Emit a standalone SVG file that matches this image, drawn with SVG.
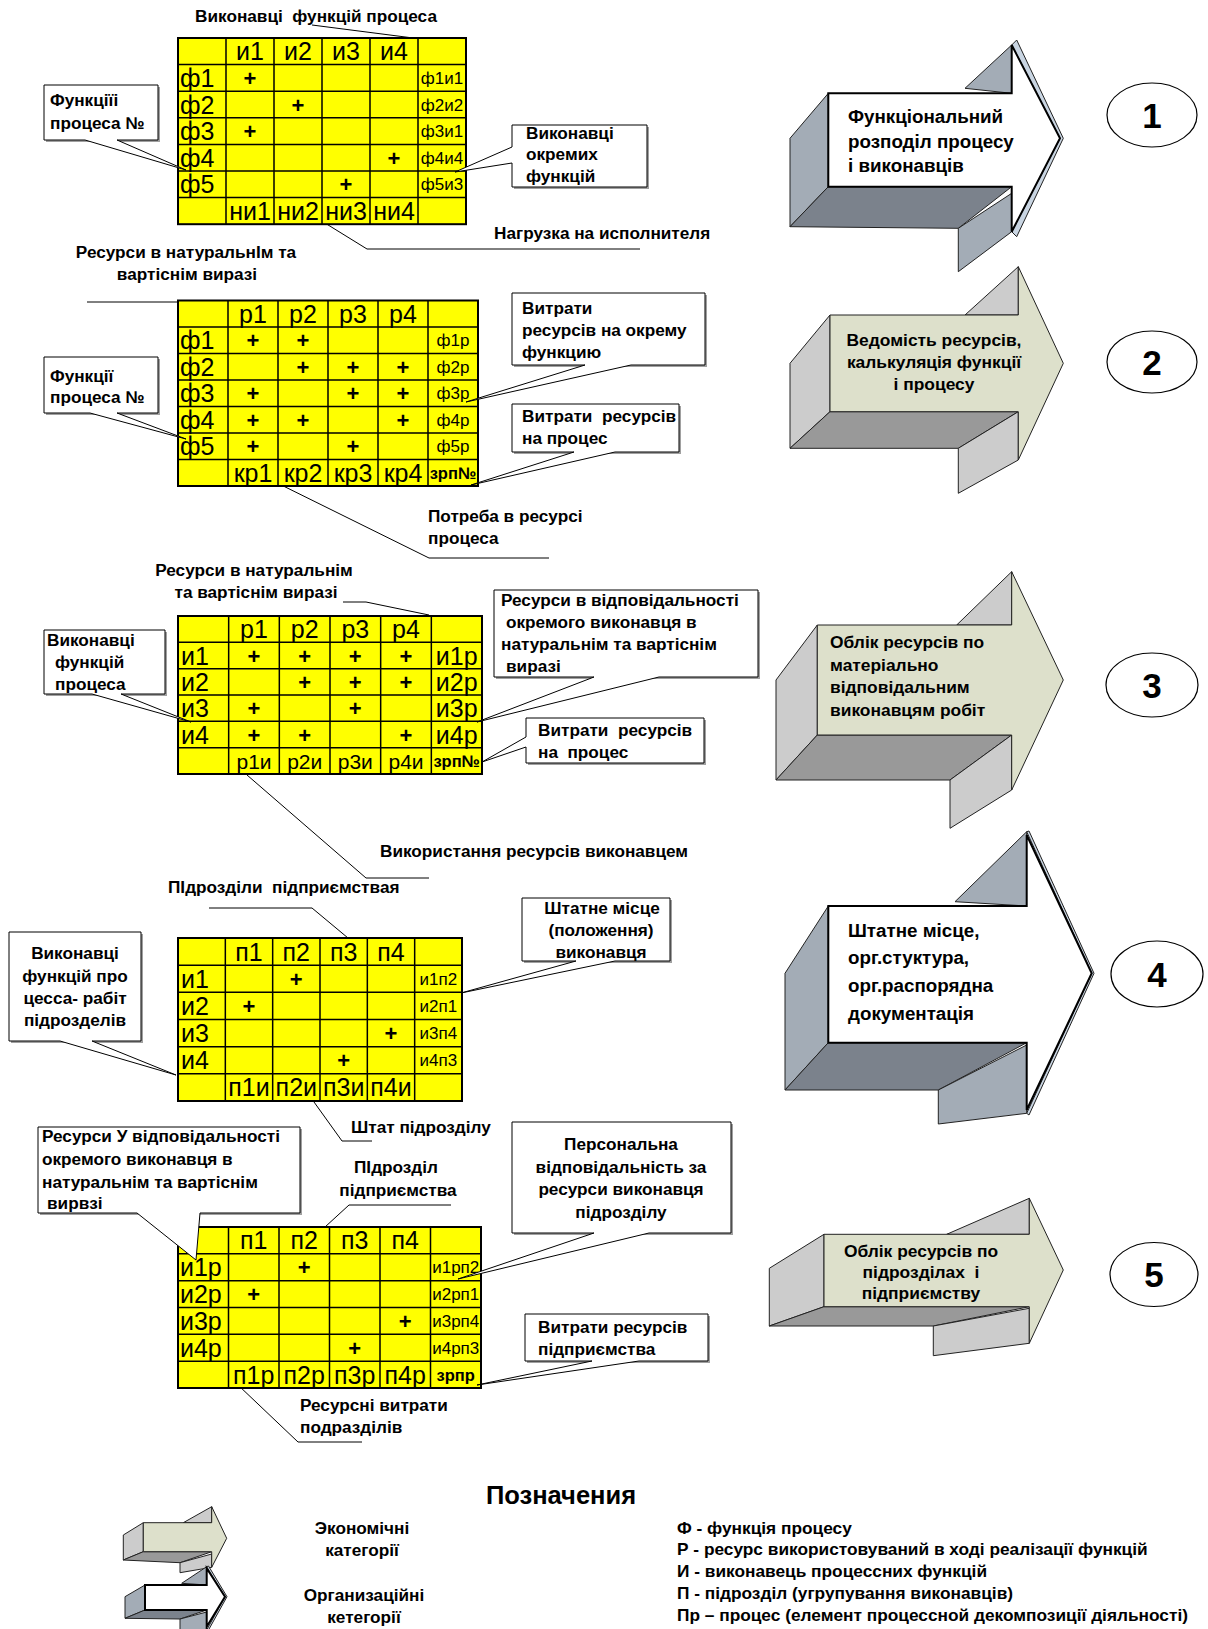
<svg xmlns="http://www.w3.org/2000/svg" width="1208" height="1629" viewBox="0 0 1208 1629">
<style>
  .tb { fill:#ffff00; stroke:#000; stroke-width:2; }
  .gl { stroke:#000; stroke-width:1.5; fill:none; }
  .big { font-family:"Liberation Sans", Arial, sans-serif; font-size:25px; text-anchor:middle; fill:#000; }
  .bigl { font-family:"Liberation Sans", Arial, sans-serif; font-size:25px; text-anchor:start; fill:#000; }
  .mid { font-family:"Liberation Sans", Arial, sans-serif; font-size:21px; text-anchor:middle; fill:#000; }
  .sm { font-family:"Liberation Sans", Arial, sans-serif; font-size:17px; text-anchor:middle; fill:#000; }
  .pl { font-family:"Liberation Sans", Arial, sans-serif; font-size:22px; font-weight:bold; text-anchor:middle; fill:#000; }
  .zr { font-family:"Liberation Sans", Arial, sans-serif; font-size:16.5px; font-weight:bold; text-anchor:middle; fill:#000; }
  .lb { font-family:"Liberation Sans", Arial, sans-serif; font-size:17.2px; font-weight:bold; fill:#000; }
  .lbc { font-family:"Liberation Sans", Arial, sans-serif; font-size:17.2px; font-weight:bold; fill:#000; text-anchor:middle; }
  .co { fill:#fff; stroke:#000; stroke-width:1; }
  .sh { fill:#a0a0a0; }
  .ld { stroke:#000; stroke-width:1; fill:none; }
  .oside { fill:#a3acb6; stroke:#222; stroke-width:1; }
  .obot { fill:#7b828c; stroke:#222; stroke-width:1; }
  .ostrip { fill:#c9d5e2; stroke:#222; stroke-width:1; }
  .ofront { fill:#fff; stroke:#000; stroke-width:2; }
  .eside { fill:#cccccc; stroke:#222; stroke-width:1; }
  .ebot { fill:#999999; stroke:#222; stroke-width:1; }
  .efront { fill:#dde0cb; stroke:#222; stroke-width:1; }
  .at { font-family:"Liberation Sans", Arial, sans-serif; font-size:18.8px; font-weight:bold; fill:#000; }
  .ate { font-family:"Liberation Sans", Arial, sans-serif; font-size:17.4px; font-weight:bold; fill:#000; }
  .el { fill:#fff; stroke:#000; stroke-width:1.2; }
  .num { font-family:"Liberation Sans", Arial, sans-serif; font-size:35px; font-weight:bold; text-anchor:middle; fill:#000; }
  .lg { font-family:"Liberation Sans", Arial, sans-serif; font-size:17.3px; font-weight:bold; fill:#000; }
</style>

<!-- leader lines from labels to tables -->
<g id="connectors">
  <path class="ld" d="M312,25 L415.5,38.3"/>
  <path class="ld" d="M312,215 L367,249 H640"/>
  <path class="ld" d="M87,302 H218 L246,325"/>
  <path class="ld" d="M257,473 L429,558 H549"/>
  <path class="ld" d="M343,602 H366 L429,615"/>
  <path class="ld" d="M247,775 L366,878 H429"/>
  <path class="ld" d="M209,908 H312 L348,938"/>
  <path class="ld" d="M314,1102 L342,1141 H372"/>
  <path class="ld" d="M451,1205 H349 L325,1227"/>
  <path class="ld" d="M238,1385 L298,1442 H362"/>
</g>

<!-- free labels -->
<g id="labels">
  <text class="lbc" x="316" y="22" xml:space="preserve">Виконавці  функцій процеса</text>
  <text class="lb" x="494" y="239">Нагрузка на исполнителя</text>
  <text class="lbc" x="186" y="258">Ресурси в натуральнІм та</text>
  <text class="lbc" x="187" y="280">вартіснім виразі</text>
  <text class="lb" x="428" y="522">Потреба в ресурсі</text>
  <text class="lb" x="428" y="544">процеса</text>
  <text class="lbc" x="254" y="576">Ресурси в натуральнім</text>
  <text class="lbc" x="256" y="598">та вартіснім виразі</text>
  <text class="lb" x="380" y="857">Використання ресурсів виконавцем</text>
  <text class="lb" x="168" y="893" xml:space="preserve">ПІдрозділи  підприємствая</text>
  <text class="lb" x="351" y="1133">Штат підрозділу</text>
  <text class="lbc" x="396" y="1173">ПІдрозділ</text>
  <text class="lbc" x="398" y="1196">підприємства</text>
  <text class="lb" x="300" y="1411">Ресурсні витрати</text>
  <text class="lb" x="300" y="1433">подразділів</text>
</g>

<!-- matrix 1: functions x executors -->
<g id="table1">
  <rect class="tb" x="178" y="38" width="288" height="186.2"/>
  <path class="gl" d="M226,38V224.2M274,38V224.2M322,38V224.2M370,38V224.2M418,38V224.2M178,64.6H466M178,91.2H466M178,117.8H466M178,144.4H466M178,171H466M178,197.6H466"/>
  <text class="big" x="250" y="60.3">и1</text><text class="big" x="298" y="60.3">и2</text><text class="big" x="346" y="60.3">и3</text><text class="big" x="394" y="60.3">и4</text>
  <text class="bigl" x="180" y="86.9">ф1</text><text class="bigl" x="180" y="113.5">ф2</text><text class="bigl" x="180" y="140.1">ф3</text><text class="bigl" x="180" y="166.7">ф4</text><text class="bigl" x="180" y="193.3">ф5</text>
  <text class="pl" x="250" y="85.9">+</text><text class="pl" x="298" y="112.5">+</text><text class="pl" x="250" y="139.1">+</text><text class="pl" x="394" y="165.7">+</text><text class="pl" x="346" y="192.3">+</text>
  <text class="sm" x="442" y="83.9">ф1и1</text><text class="sm" x="442" y="110.5">ф2и2</text><text class="sm" x="442" y="137.1">ф3и1</text><text class="sm" x="442" y="163.7">ф4и4</text><text class="sm" x="442" y="190.3">ф5и3</text>
  <text class="big" x="250" y="219.9">ни1</text><text class="big" x="298" y="219.9">ни2</text><text class="big" x="346" y="219.9">ни3</text><text class="big" x="394" y="219.9">ни4</text>
</g>

<!-- matrix 2: functions x resources -->
<g id="table2">
  <rect class="tb" x="178" y="300.5" width="300" height="185.5"/>
  <path class="gl" d="M228,300.5V486M278,300.5V486M328,300.5V486M378,300.5V486M428,300.5V486M178,327H478M178,353.5H478M178,380H478M178,406.5H478M178,433H478M178,459.5H478"/>
  <text class="big" x="253" y="322.75">р1</text><text class="big" x="303" y="322.75">р2</text><text class="big" x="353" y="322.75">р3</text><text class="big" x="403" y="322.75">р4</text>
  <text class="bigl" x="180" y="349.25">ф1</text><text class="bigl" x="180" y="375.75">ф2</text><text class="bigl" x="180" y="402.25">ф3</text><text class="bigl" x="180" y="428.75">ф4</text><text class="bigl" x="180" y="455.25">ф5</text>
  <text class="pl" x="253" y="348.25">+</text><text class="pl" x="303" y="348.25">+</text>
  <text class="pl" x="303" y="374.75">+</text><text class="pl" x="353" y="374.75">+</text><text class="pl" x="403" y="374.75">+</text>
  <text class="pl" x="253" y="401.25">+</text><text class="pl" x="353" y="401.25">+</text><text class="pl" x="403" y="401.25">+</text>
  <text class="pl" x="253" y="427.75">+</text><text class="pl" x="303" y="427.75">+</text><text class="pl" x="403" y="427.75">+</text>
  <text class="pl" x="253" y="454.25">+</text><text class="pl" x="353" y="454.25">+</text>
  <text class="sm" x="453" y="346.25">ф1р</text><text class="sm" x="453" y="372.75">ф2р</text><text class="sm" x="453" y="399.25">ф3р</text><text class="sm" x="453" y="425.75">ф4р</text><text class="sm" x="453" y="452.25">ф5р</text>
  <text class="big" x="253" y="481.75">кр1</text><text class="big" x="303" y="481.75">кр2</text><text class="big" x="353" y="481.75">кр3</text><text class="big" x="403" y="481.75">кр4</text>
  <text class="zr" x="453" y="479">зрп№</text>
</g>

<!-- matrix 3: executors x resources -->
<g id="table3">
  <rect class="tb" x="178" y="616" width="304" height="158"/>
  <path class="gl" d="M228.67,616V774M279.33,616V774M330,616V774M380.67,616V774M431.33,616V774M178,642.33H482M178,668.67H482M178,695H482M178,721.33H482M178,747.67H482"/>
  <text class="big" x="254" y="638.2">р1</text><text class="big" x="304.7" y="638.2">р2</text><text class="big" x="355.3" y="638.2">р3</text><text class="big" x="406" y="638.2">р4</text>
  <text class="bigl" x="181" y="664.5">и1</text><text class="bigl" x="181" y="690.8">и2</text><text class="bigl" x="181" y="717.2">и3</text><text class="bigl" x="181" y="743.5">и4</text>
  <text class="pl" x="254" y="663.5">+</text><text class="pl" x="304.7" y="663.5">+</text><text class="pl" x="355.3" y="663.5">+</text><text class="pl" x="406" y="663.5">+</text>
  <text class="pl" x="304.7" y="689.8">+</text><text class="pl" x="355.3" y="689.8">+</text><text class="pl" x="406" y="689.8">+</text>
  <text class="pl" x="254" y="716.2">+</text><text class="pl" x="355.3" y="716.2">+</text>
  <text class="pl" x="254" y="742.5">+</text><text class="pl" x="304.7" y="742.5">+</text><text class="pl" x="406" y="742.5">+</text>
  <text class="big" x="456.7" y="664.5" font-size="24">и1р</text><text class="big" x="456.7" y="690.8" font-size="24">и2р</text><text class="big" x="456.7" y="717.2" font-size="24">и3р</text><text class="big" x="456.7" y="743.5" font-size="24">и4р</text>
  <text class="mid" x="254" y="768.5">р1и</text><text class="mid" x="304.7" y="768.5">р2и</text><text class="mid" x="355.3" y="768.5">р3и</text><text class="mid" x="406" y="768.5">р4и</text>
  <text class="zr" x="456.7" y="767">зрп№</text>
</g>

<!-- matrix 4: executors x departments -->
<g id="table4">
  <rect class="tb" x="178" y="938" width="284" height="163"/>
  <path class="gl" d="M225.33,938V1101M272.67,938V1101M320,938V1101M367.33,938V1101M414.67,938V1101M178,965.17H462M178,992.33H462M178,1019.5H462M178,1046.67H462M178,1073.83H462"/>
  <text class="big" x="249" y="960.6">п1</text><text class="big" x="296.3" y="960.6">п2</text><text class="big" x="343.7" y="960.6">п3</text><text class="big" x="391" y="960.6">п4</text>
  <text class="bigl" x="181" y="987.75">и1</text><text class="bigl" x="181" y="1014.9">и2</text><text class="bigl" x="181" y="1042.1">и3</text><text class="bigl" x="181" y="1069.25">и4</text>
  <text class="pl" x="296.3" y="986.75">+</text><text class="pl" x="249" y="1013.9">+</text><text class="pl" x="391" y="1041.1">+</text><text class="pl" x="343.7" y="1068.25">+</text>
  <text class="sm" x="438.3" y="984.75">и1п2</text><text class="sm" x="438.3" y="1011.9">и2п1</text><text class="sm" x="438.3" y="1039.1">и3п4</text><text class="sm" x="438.3" y="1066.25">и4п3</text>
  <text class="big" x="249" y="1096.4">п1и</text><text class="big" x="296.3" y="1096.4">п2и</text><text class="big" x="343.7" y="1096.4">п3и</text><text class="big" x="391" y="1096.4">п4и</text>
</g>

<!-- matrix 5: executor resources x departments -->
<g id="table5">
  <rect class="tb" x="178" y="1227" width="303" height="161"/>
  <path class="gl" d="M228.5,1227V1388M279,1227V1388M329.5,1227V1388M380,1227V1388M430.5,1227V1388M178,1253.83H481M178,1280.67H481M178,1307.5H481M178,1334.33H481M178,1361.17H481"/>
  <text class="big" x="253.75" y="1249.4">п1</text><text class="big" x="304.25" y="1249.4">п2</text><text class="big" x="354.75" y="1249.4">п3</text><text class="big" x="405.25" y="1249.4">п4</text>
  <text class="bigl" x="180" y="1276.25">и1р</text><text class="bigl" x="180" y="1303.1">и2р</text><text class="bigl" x="180" y="1329.9">и3р</text><text class="bigl" x="180" y="1356.75">и4р</text>
  <text class="pl" x="304.25" y="1275.25">+</text><text class="pl" x="253.75" y="1302.1">+</text><text class="pl" x="405.25" y="1328.9">+</text><text class="pl" x="354.75" y="1355.75">+</text>
  <text class="sm" x="455.75" y="1273.25">и1рп2</text><text class="sm" x="455.75" y="1300.1">и2рп1</text><text class="sm" x="455.75" y="1326.9">и3рп4</text><text class="sm" x="455.75" y="1353.75">и4рп3</text>
  <text class="big" x="253.75" y="1383.6">п1р</text><text class="big" x="304.25" y="1383.6">п2р</text><text class="big" x="354.75" y="1383.6">п3р</text><text class="big" x="405.25" y="1383.6">п4р</text>
  <text class="zr" x="455.75" y="1380.5">зрпр</text>
</g>

<!-- callouts -->
<g id="callout1">
  <rect class="sh" x="46" y="87" width="114" height="55"/>
  <path class="co" d="M44,85H158V140H117L186,170L85,140H44Z"/>
  <text class="lb" x="50" y="106">Функціїі</text>
  <text class="lb" x="50" y="129">процеса №</text>
</g>
<g id="callout2">
  <rect class="sh" x="514" y="127" width="135" height="62"/>
  <path class="co" d="M512,125H647V187H512V163L455,172L512,147Z"/>
  <text class="lb" x="526" y="139">Виконавці</text>
  <text class="lb" x="526" y="160">окремих</text>
  <text class="lb" x="526" y="182">функцій</text>
</g>
<g id="callout3">
  <rect class="sh" x="46" y="359" width="114" height="56"/>
  <path class="co" d="M44,357H158V413H117L186,439L90,413H44Z"/>
  <text class="lb" x="50" y="382">Функції</text>
  <text class="lb" x="50" y="403">процеса №</text>
</g>
<g id="callout4">
  <rect class="sh" x="514" y="295" width="193" height="72"/>
  <path class="co" d="M512,293H705V365H631L466,402L585,365H512Z"/>
  <text class="lb" x="522" y="314">Витрати</text>
  <text class="lb" x="522" y="336">ресурсів на окрему</text>
  <text class="lb" x="522" y="358">функцию</text>
</g>
<g id="callout5">
  <rect class="sh" x="514" y="406" width="167" height="48"/>
  <path class="co" d="M512,404H679V452H615L471,485L574,452H512Z"/>
  <text class="lb" x="522" y="422" xml:space="preserve">Витрати  ресурсів</text>
  <text class="lb" x="522" y="444">на процес</text>
</g>
<g id="callout6">
  <rect class="sh" x="46" y="632" width="121" height="64"/>
  <path class="co" d="M44,630H165V694H121L191,722L92,694H44Z"/>
  <text class="lb" x="47" y="646">Виконавці</text>
  <text class="lb" x="55" y="668">функцій</text>
  <text class="lb" x="55" y="690">процеса</text>
</g>
<g id="callout7">
  <rect class="sh" x="496" y="592" width="264" height="87"/>
  <path class="co" d="M494,590H758V677H659L477,722L594,677H494Z"/>
  <text class="lb" x="501" y="606">Ресурси в відповідальності</text>
  <text class="lb" x="506" y="628">окремого виконавця в</text>
  <text class="lb" x="501" y="650">натуральнім та вартіснім</text>
  <text class="lb" x="506" y="672">виразі</text>
</g>
<g id="callout8">
  <rect class="sh" x="528" y="720" width="178" height="45"/>
  <path class="co" d="M526,718H704V763H526V747L482,762L526,737Z"/>
  <text class="lb" x="538" y="736" xml:space="preserve">Витрати  ресурсів</text>
  <text class="lb" x="538" y="758" xml:space="preserve">на  процес</text>
</g>
<g id="callout9">
  <rect class="sh" x="11" y="934" width="132" height="109"/>
  <path class="co" d="M9,932H141V1041H92L176,1075L60,1041H9Z"/>
  <text class="lbc" x="75" y="959">Виконавці</text>
  <text class="lbc" x="75" y="982">функцій про</text>
  <text class="lbc" x="75" y="1004">цесса- рабіт</text>
  <text class="lbc" x="75" y="1026">підрозделів</text>
</g>
<g id="callout10">
  <rect class="sh" x="524" y="900" width="148" height="63"/>
  <path class="co" d="M522,898H670V961H615L461,993L576,961H522Z"/>
  <text class="lbc" x="602" y="914">Штатне місце</text>
  <text class="lbc" x="601" y="936">(положення)</text>
  <text class="lbc" x="601" y="958">виконавця</text>
</g>
<g id="callout11">
  <rect class="sh" x="40" y="1129" width="262" height="86"/>
  <path class="co" d="M38,1127H300V1213H200L196,1260L137,1213H38Z"/>
  <text class="lb" x="42" y="1142">Ресурси У відповідальності</text>
  <text class="lb" x="42" y="1165">окремого виконавця в</text>
  <text class="lb" x="42" y="1188">натуральнім та вартіснім</text>
  <text class="lb" x="47" y="1209">вирвзі</text>
</g>
<g id="callout12">
  <rect class="sh" x="514" y="1124" width="219" height="111"/>
  <path class="co" d="M512,1122H731V1233H649L458,1279L594,1233H512Z"/>
  <text class="lbc" x="621" y="1150">Персональна</text>
  <text class="lbc" x="621" y="1173">відповідальність за</text>
  <text class="lbc" x="621" y="1195">ресурси виконавця</text>
  <text class="lbc" x="621" y="1218">підрозділу</text>
</g>
<g id="callout13">
  <rect class="sh" x="527" y="1316" width="183" height="47"/>
  <path class="co" d="M525,1314H708V1361H639L477,1385L592,1361H525Z"/>
  <text class="lb" x="538" y="1333">Витрати ресурсів</text>
  <text class="lb" x="538" y="1355">підприємства</text>
</g>

<!-- block arrows -->
<g id="arrow1">
  <polygon class="oside" points="965,88.3 1011.7,45 1011.7,93.3"/>
  <polygon class="ostrip" points="1011.7,45 1016.7,40 1063.3,138.3 1016.7,236.7 1011.7,231.7 1060,138.3"/>
  <polygon class="oside" points="790,138.3 828.3,93.3 828.3,186.7 790,226.7"/>
  <polygon class="obot" points="790,226.7 828.3,186.7 1011.7,186.7 958.3,228.3"/>
  <polygon class="oside" points="958.3,228.3 1011.7,193.3 1011.7,231.7 958.3,271.7"/>
  <polygon class="ofront" points="828.3,93.3 1011.7,93.3 1011.7,45 1060,138.3 1011.7,231.7 1011.7,186.7 828.3,186.7"/>
  <text class="at" x="848" y="123">Функціональний</text>
  <text class="at" x="848" y="148">розподіл процесу</text>
  <text class="at" x="848" y="172">і виконавців</text>
</g>
<g id="arrow2">
  <polygon class="eside" points="965,315 1018.3,266.7 1018.3,315"/>
  <polygon class="eside" points="790,363.3 830,315 830,411.7 790,448.3"/>
  <polygon class="ebot" points="790,448.3 830,411.7 1018.3,411.7 958.3,448.3"/>
  <polygon class="eside" points="958.3,448.3 1018.3,411.7 1018.3,460 958.3,493.3"/>
  <polygon class="efront" points="830,315 1018.3,315 1018.3,266.7 1063.3,363.3 1018.3,460 1018.3,411.7 830,411.7"/>
  <text class="ate" x="934" y="346" text-anchor="middle">Ведомість ресурсів,</text>
  <text class="ate" x="934" y="368" text-anchor="middle">калькуляція функції</text>
  <text class="ate" x="934" y="390" text-anchor="middle">і процесу</text>
</g>
<g id="arrow3">
  <polygon class="eside" points="956.7,625 1011.7,571.7 1011.7,625"/>
  <polygon class="eside" points="776,680 817.3,625 817.3,735 776,780"/>
  <polygon class="ebot" points="776,780 817.3,735 1011.7,735 950,780"/>
  <polygon class="eside" points="950,780 1011.7,735 1011.7,790 950,828.3"/>
  <polygon class="efront" points="817.3,625 1011.7,625 1011.7,571.7 1063.3,680 1011.7,790 1011.7,735 817.3,735"/>
  <text class="ate" x="830" y="648">Облік ресурсів по</text>
  <text class="ate" x="830" y="671">матеріально</text>
  <text class="ate" x="830" y="693">відповідальним</text>
  <text class="ate" x="830" y="716">виконавцям робіт</text>
</g>
<g id="arrow4">
  <polygon class="oside" points="955,901.7 1026.7,831.7 1026.7,906"/>
  <polygon class="ostrip" points="1026.7,831.7 1029,831 1094,973.3 1029,1115 1026.7,1113.3 1091.7,973.3"/>
  <polygon class="oside" points="785,973.3 828.3,906 828.3,1042.7 785,1090"/>
  <polygon class="obot" points="785,1090 828.3,1042.7 1026.7,1042.7 938.3,1090"/>
  <polygon class="oside" points="938.3,1090 1026.7,1045 1026.7,1113.3 938.3,1124"/>
  <polygon class="ofront" points="828.3,906 1026.7,906 1026.7,835 1091.7,973.3 1026.7,1110 1026.7,1042.7 828.3,1042.7"/>
  <text class="at" x="848" y="937">Штатне місце,</text>
  <text class="at" x="848" y="964">орг.стуктура,</text>
  <text class="at" x="848" y="992">орг.распорядна</text>
  <text class="at" x="848" y="1020">документація</text>
</g>
<g id="arrow5">
  <polygon class="eside" points="946.7,1234.3 1029.3,1198.3 1029.3,1234.3"/>
  <polygon class="eside" points="769.3,1268.3 824,1234.3 824,1306.7 769.3,1326"/>
  <polygon class="ebot" points="769.3,1326 824,1306.7 1029.3,1306.7 933.3,1326"/>
  <polygon class="eside" points="933.3,1326 1029.3,1308.3 1029.3,1343.3 933.3,1355.7"/>
  <polygon class="efront" points="824,1234.3 1029.3,1234.3 1029.3,1198.3 1063.3,1270 1029.3,1343.3 1029.3,1306.7 824,1306.7"/>
  <text class="ate" x="921" y="1257" text-anchor="middle">Облік ресурсів по</text>
  <text class="ate" x="921" y="1278" text-anchor="middle" xml:space="preserve">підрозділах  і</text>
  <text class="ate" x="921" y="1299" text-anchor="middle">підприємству</text>
</g>

<!-- stage numbers -->
<g id="stage1"><ellipse class="el" cx="1152" cy="115" rx="45" ry="32"/><text class="num" x="1152" y="127.5">1</text></g>
<g id="stage2"><ellipse class="el" cx="1152" cy="362" rx="45" ry="31"/><text class="num" x="1152" y="374.5">2</text></g>
<g id="stage3"><ellipse class="el" cx="1152" cy="685" rx="46" ry="32"/><text class="num" x="1152" y="697.5">3</text></g>
<g id="stage4"><ellipse class="el" cx="1157" cy="974" rx="46" ry="33"/><text class="num" x="1157" y="986.5">4</text></g>
<g id="stage5"><ellipse class="el" cx="1154" cy="1274.5" rx="44" ry="32"/><text class="num" x="1154" y="1287">5</text></g>

<!-- legend -->
<g id="legend">
  <text x="561" y="1504" text-anchor="middle" font-family="Liberation Sans, Arial, sans-serif" font-size="25.5" font-weight="bold">Позначения</text>
  <g id="legend-eco">
    <polygon class="eside" points="183.3,1522.7 211.7,1506.7 211.7,1522.7"/>
    <polygon class="eside" points="123.3,1535 143.3,1522.7 143.3,1551.7 123.3,1560"/>
    <polygon class="ebot" points="123.3,1560 143.3,1551.7 211.7,1551.7 180,1562.7"/>
    <polygon class="eside" points="180,1562.7 211.7,1554 211.7,1567.3 180,1572.7"/>
    <polygon class="efront" points="143.3,1522.7 211.7,1522.7 211.7,1506.7 226.7,1538.3 211.7,1567.3 211.7,1551.7 143.3,1551.7"/>
  </g>
  <g id="legend-org">
    <polygon class="oside" points="181.7,1583.3 206.7,1566.7 206.7,1585"/>
    <polygon class="ostrip" points="206.7,1566.7 208.5,1566 227,1596.7 208.5,1630 206.7,1630 225,1596.7"/>
    <polygon class="oside" points="125,1596.7 145,1585 145,1610 125,1618.3"/>
    <polygon class="obot" points="125,1618.3 145,1610 206.7,1610 180,1619"/>
    <polygon class="oside" points="180,1619 206.7,1612 206.7,1630 180,1630"/>
    <polygon class="ofront" points="145,1585 206.7,1585 206.7,1568.3 225,1596.7 206.7,1626.7 206.7,1610 145,1610"/>
  </g>
  <text class="lbc" x="362" y="1534">Экономічні</text>
  <text class="lbc" x="362" y="1556">категорії</text>
  <text class="lbc" x="364" y="1601">Организаційні</text>
  <text class="lbc" x="364" y="1623">кетегорії</text>
  <text class="lg" x="677" y="1534">Ф - функція процесу</text>
  <text class="lg" x="677" y="1555">Р - ресурс використовуваний в ході реалізації функцій</text>
  <text class="lg" x="677" y="1577">И - виконавець процессних функцій</text>
  <text class="lg" x="677" y="1599">П - підрозділ (угрупування виконавців)</text>
  <text class="lg" x="677" y="1621">Пр – процес (елемент процессной декомпозиції діяльності)</text>
</g>
</svg>
